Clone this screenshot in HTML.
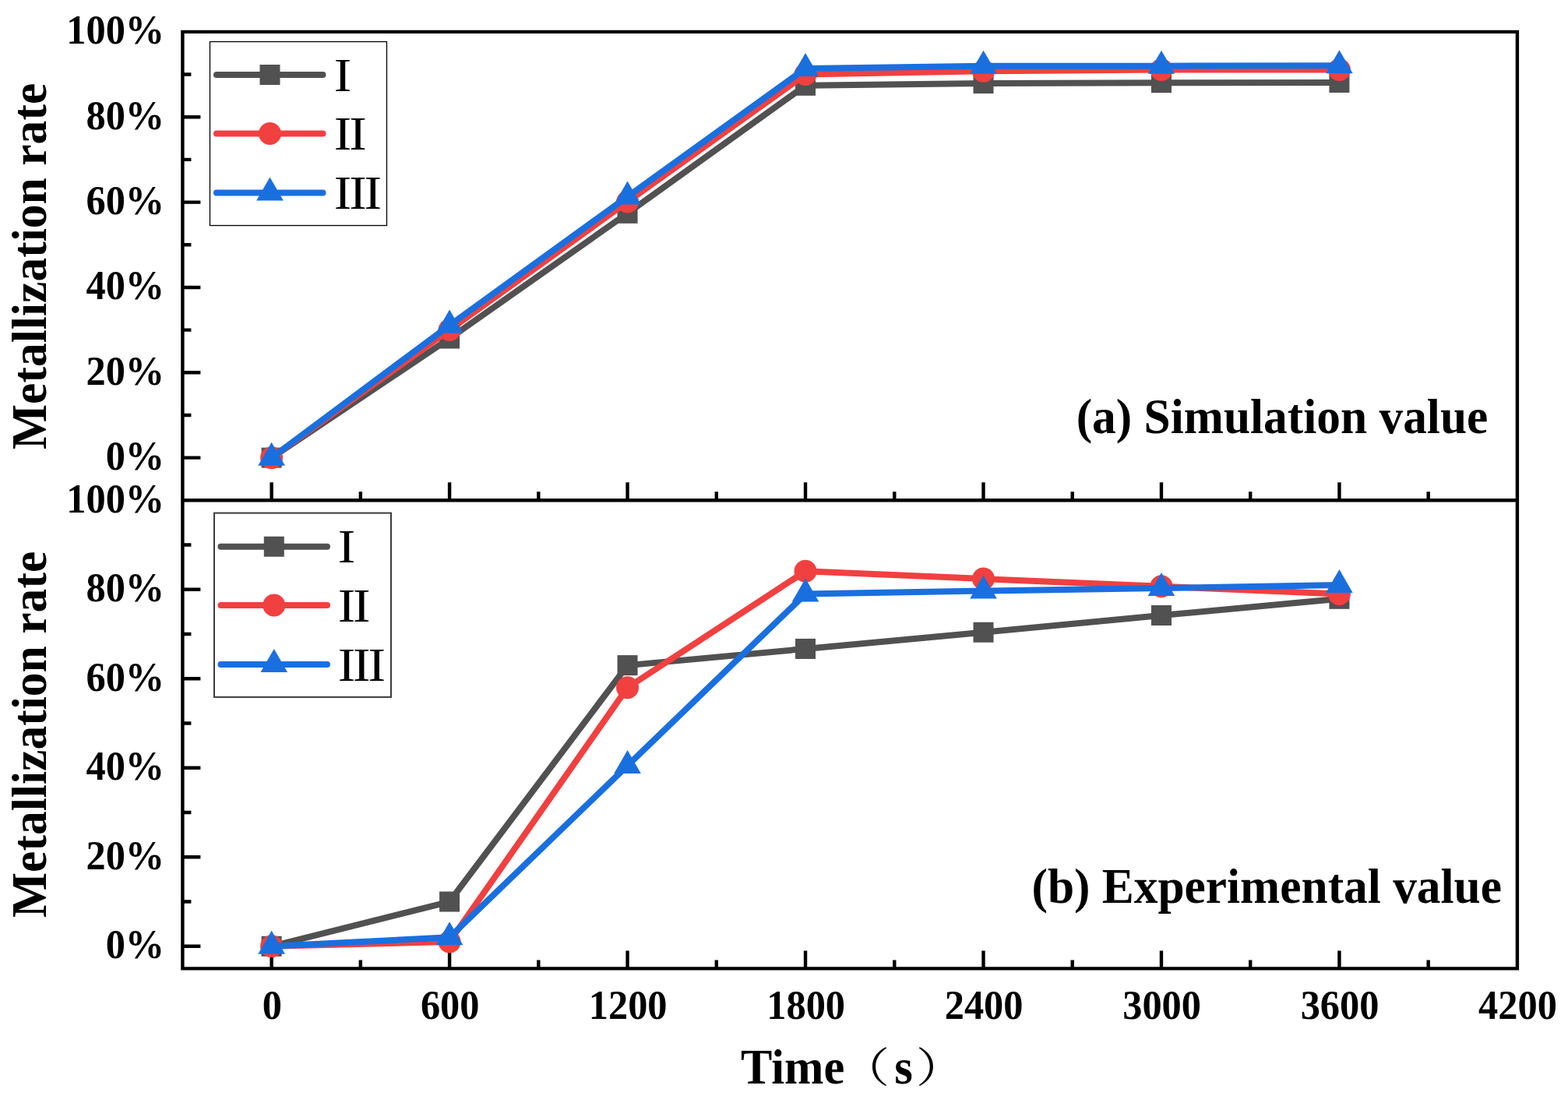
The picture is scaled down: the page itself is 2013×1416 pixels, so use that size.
<!DOCTYPE html><html><head><meta charset="utf-8"><title>Metallization rate</title><style>
html,body{margin:0;padding:0;background:#fff;overflow:hidden;width:2013px;height:1416px;}svg{display:block;}
.b{font-family:"Liberation Serif","Times New Roman",serif;font-weight:bold;fill:#000;}
.r{font-family:"Liberation Serif","Times New Roman",serif;font-weight:normal;fill:#000;}
.c{font-family:"Liberation Serif","Noto Serif CJK SC",serif;font-weight:normal;fill:#000;}
</style></head><body>
<svg width="2013" height="1416" viewBox="0 0 2013 1416">
<rect width="2013" height="1416" fill="#fff"/>
<path d="M234.4 587.63H257.4M234.4 532.95H245.4M234.4 478.28H257.4M234.4 423.61H245.4M234.4 368.94H257.4M234.4 314.26H245.4M234.4 259.59H257.4M234.4 204.92H245.4M234.4 150.25H257.4M234.4 95.57H245.4M234.4 1214.78H257.4M234.4 1157.53H245.4M234.4 1100.28H257.4M234.4 1043.03H245.4M234.4 985.79H257.4M234.4 928.54H245.4M234.4 871.29H257.4M234.4 814.04H245.4M234.4 756.8H257.4M234.4 699.55H245.4M348.63 642.3V619.3M462.87 642.3V631.3M577.1 642.3V619.3M691.33 642.3V631.3M805.57 642.3V619.3M919.8 642.3V631.3M1034.03 642.3V619.3M1148.27 642.3V631.3M1262.5 642.3V619.3M1376.73 642.3V631.3M1490.97 642.3V619.3M1605.2 642.3V631.3M1719.43 642.3V619.3M1833.67 642.3V631.3M348.63 1243.4V1220.4M462.87 1243.4V1232.4M577.1 1243.4V1220.4M691.33 1243.4V1232.4M805.57 1243.4V1220.4M919.8 1243.4V1232.4M1034.03 1243.4V1220.4M1148.27 1243.4V1232.4M1262.5 1243.4V1220.4M1376.73 1243.4V1232.4M1490.97 1243.4V1220.4M1605.2 1243.4V1232.4M1719.43 1243.4V1220.4M1833.67 1243.4V1232.4" stroke="#000" stroke-width="4.4" fill="none"/>
<polyline points="348.63,587.63 577.1,434.54 805.57,273.81 1034.03,109.79 1262.5,107.05 1490.97,106.18 1719.43,105.96" fill="none" stroke="#515151" stroke-width="8.0" stroke-linejoin="round" stroke-linecap="round"/>
<rect x="335.63" y="574.63" width="26" height="26" fill="#515151"/>
<rect x="564.1" y="421.54" width="26" height="26" fill="#515151"/>
<rect x="792.57" y="260.81" width="26" height="26" fill="#515151"/>
<rect x="1021.03" y="96.79" width="26" height="26" fill="#515151"/>
<rect x="1249.5" y="94.05" width="26" height="26" fill="#515151"/>
<rect x="1477.97" y="93.18" width="26" height="26" fill="#515151"/>
<rect x="1706.43" y="92.96" width="26" height="26" fill="#515151"/>
<polyline points="348.63,587.63 577.1,423.61 805.57,259.04 1034.03,95.57 1262.5,91.2 1490.97,89.56 1719.43,89.56" fill="none" stroke="#F14040" stroke-width="8.0" stroke-linejoin="round" stroke-linecap="round"/>
<circle cx="348.63" cy="587.63" r="14.5" fill="#F14040"/>
<circle cx="577.1" cy="423.61" r="14.5" fill="#F14040"/>
<circle cx="805.57" cy="259.04" r="14.5" fill="#F14040"/>
<circle cx="1034.03" cy="95.57" r="14.5" fill="#F14040"/>
<circle cx="1262.5" cy="91.2" r="14.5" fill="#F14040"/>
<circle cx="1490.97" cy="89.56" r="14.5" fill="#F14040"/>
<circle cx="1719.43" cy="89.56" r="14.5" fill="#F14040"/>
<polyline points="348.63,587.63 577.1,417.6 805.57,252.48 1034.03,87.92 1262.5,84.64 1490.97,84.64 1719.43,84.36" fill="none" stroke="#1A6FDF" stroke-width="8.0" stroke-linejoin="round" stroke-linecap="round"/>
<polygon points="348.63,567.63 331.33,597.63 365.93,597.63" fill="#1A6FDF"/>
<polygon points="577.1,397.6 559.8,427.6 594.4,427.6" fill="#1A6FDF"/>
<polygon points="805.57,232.48 788.27,262.48 822.87,262.48" fill="#1A6FDF"/>
<polygon points="1034.03,67.92 1016.73,97.92 1051.33,97.92" fill="#1A6FDF"/>
<polygon points="1262.5,64.64 1245.2,94.64 1279.8,94.64" fill="#1A6FDF"/>
<polygon points="1490.97,64.64 1473.67,94.64 1508.27,94.64" fill="#1A6FDF"/>
<polygon points="1719.43,64.36 1702.13,94.36 1736.73,94.36" fill="#1A6FDF"/>
<polyline points="348.63,1214.78 577.1,1157.53 805.57,854.12 1034.03,832.93 1262.5,811.75 1490.97,790 1719.43,768.82" fill="none" stroke="#515151" stroke-width="8.0" stroke-linejoin="round" stroke-linecap="round"/>
<rect x="335.63" y="1201.78" width="26" height="26" fill="#515151"/>
<rect x="564.1" y="1144.53" width="26" height="26" fill="#515151"/>
<rect x="792.57" y="841.12" width="26" height="26" fill="#515151"/>
<rect x="1021.03" y="819.93" width="26" height="26" fill="#515151"/>
<rect x="1249.5" y="798.75" width="26" height="26" fill="#515151"/>
<rect x="1477.97" y="777" width="26" height="26" fill="#515151"/>
<rect x="1706.43" y="755.82" width="26" height="26" fill="#515151"/>
<polyline points="348.63,1214.78 577.1,1209.05 805.57,882.74 1034.03,733.32 1262.5,743.06 1490.97,752.79 1719.43,762.52" fill="none" stroke="#F14040" stroke-width="8.0" stroke-linejoin="round" stroke-linecap="round"/>
<circle cx="348.63" cy="1214.78" r="14.5" fill="#F14040"/>
<circle cx="577.1" cy="1209.05" r="14.5" fill="#F14040"/>
<circle cx="805.57" cy="882.74" r="14.5" fill="#F14040"/>
<circle cx="1034.03" cy="733.32" r="14.5" fill="#F14040"/>
<circle cx="1262.5" cy="743.06" r="14.5" fill="#F14040"/>
<circle cx="1490.97" cy="752.79" r="14.5" fill="#F14040"/>
<circle cx="1719.43" cy="762.52" r="14.5" fill="#F14040"/>
<polyline points="348.63,1214.78 577.1,1203.33 805.57,982.92 1034.03,762.52 1262.5,758.51 1490.97,755.08 1719.43,751.07" fill="none" stroke="#1A6FDF" stroke-width="8.0" stroke-linejoin="round" stroke-linecap="round"/>
<polygon points="348.63,1194.78 331.33,1224.78 365.93,1224.78" fill="#1A6FDF"/>
<polygon points="577.1,1183.33 559.8,1213.33 594.4,1213.33" fill="#1A6FDF"/>
<polygon points="805.57,962.92 788.27,992.92 822.87,992.92" fill="#1A6FDF"/>
<polygon points="1034.03,742.52 1016.73,772.52 1051.33,772.52" fill="#1A6FDF"/>
<polygon points="1262.5,738.51 1245.2,768.51 1279.8,768.51" fill="#1A6FDF"/>
<polygon points="1490.97,735.08 1473.67,765.08 1508.27,765.08" fill="#1A6FDF"/>
<polygon points="1719.43,731.07 1702.13,761.07 1736.73,761.07" fill="#1A6FDF"/>
<path d="M234.4 40.9H1947.9V1243.4H234.4Z M234.4 642.3H1947.9" stroke="#000" stroke-width="4.4" fill="none" stroke-linejoin="miter" stroke-linecap="square"/>
<rect x="269.5" y="53.5" width="227" height="236" fill="#fff" stroke="#000" stroke-width="1.3"/>
<line x1="278" y1="96" x2="414.5" y2="96" stroke="#515151" stroke-width="8.0" stroke-linecap="round"/>
<rect x="333.5" y="83" width="26" height="26" fill="#515151"/>
<text class="r" font-size="58.3" letter-spacing="-2.7" transform="translate(428.8 117) scale(1.16 1.05)">I</text>
<line x1="278" y1="171.4" x2="414.5" y2="171.4" stroke="#F14040" stroke-width="8.0" stroke-linecap="round"/>
<circle cx="346.5" cy="171.4" r="14.5" fill="#F14040"/>
<text class="r" font-size="58.3" letter-spacing="-2.7" transform="translate(428.8 191.8) scale(1.16 1.05)">II</text>
<line x1="278" y1="247.4" x2="414.5" y2="247.4" stroke="#1A6FDF" stroke-width="8.0" stroke-linecap="round"/>
<polygon points="346.5,227.4 329.2,257.4 363.8,257.4" fill="#1A6FDF"/>
<text class="r" font-size="58.3" letter-spacing="-2.7" transform="translate(428.8 268) scale(1.16 1.05)">III</text>
<rect x="275" y="658.6" width="227" height="236.3" fill="#fff" stroke="#3c3c3c" stroke-width="2.0"/>
<line x1="283.5" y1="701.7" x2="420" y2="701.7" stroke="#515151" stroke-width="8.0" stroke-linecap="round"/>
<rect x="338.8" y="688.7" width="26" height="26" fill="#515151"/>
<text class="r" font-size="58.3" letter-spacing="-2.7" transform="translate(433.7 722.2) scale(1.16 1.05)">I</text>
<line x1="283.5" y1="777" x2="420" y2="777" stroke="#F14040" stroke-width="8.0" stroke-linecap="round"/>
<circle cx="351.8" cy="777" r="14.5" fill="#F14040"/>
<text class="r" font-size="58.3" letter-spacing="-2.7" transform="translate(433.7 797.8) scale(1.16 1.05)">II</text>
<line x1="283.5" y1="853" x2="420" y2="853" stroke="#1A6FDF" stroke-width="8.0" stroke-linecap="round"/>
<polygon points="351.8,833 334.5,863 369.1,863" fill="#1A6FDF"/>
<text class="r" font-size="58.3" letter-spacing="-2.7" transform="translate(433.7 874) scale(1.16 1.05)">III</text>
<text class="b" font-size="50.4" text-anchor="end" transform="translate(211.2 603.03) scale(1 1.033)">0%</text>
<text class="b" font-size="50.4" text-anchor="end" transform="translate(211.2 493.68) scale(1 1.033)">20%</text>
<text class="b" font-size="50.4" text-anchor="end" transform="translate(211.2 384.34) scale(1 1.033)">40%</text>
<text class="b" font-size="50.4" text-anchor="end" transform="translate(211.2 274.99) scale(1 1.033)">60%</text>
<text class="b" font-size="50.4" text-anchor="end" transform="translate(211.2 165.65) scale(1 1.033)">80%</text>
<text class="b" font-size="50.4" text-anchor="end" transform="translate(211.2 56.3) scale(1 1.033)">100%</text>
<text class="b" font-size="50.4" text-anchor="end" transform="translate(211.2 1230.18) scale(1 1.033)">0%</text>
<text class="b" font-size="50.4" text-anchor="end" transform="translate(211.2 1115.68) scale(1 1.033)">20%</text>
<text class="b" font-size="50.4" text-anchor="end" transform="translate(211.2 1001.19) scale(1 1.033)">40%</text>
<text class="b" font-size="50.4" text-anchor="end" transform="translate(211.2 886.69) scale(1 1.033)">60%</text>
<text class="b" font-size="50.4" text-anchor="end" transform="translate(211.2 772.2) scale(1 1.033)">80%</text>
<text class="b" font-size="50.4" text-anchor="end" transform="translate(211.2 657.7) scale(1 1.033)">100%</text>
<text class="b" font-size="50.4" text-anchor="middle" transform="translate(349.23 1308) scale(1 1.04)">0</text>
<text class="b" font-size="50.4" text-anchor="middle" transform="translate(577.7 1308) scale(1 1.04)">600</text>
<text class="b" font-size="50.4" text-anchor="middle" transform="translate(806.17 1308) scale(1 1.04)">1200</text>
<text class="b" font-size="50.4" text-anchor="middle" transform="translate(1034.63 1308) scale(1 1.04)">1800</text>
<text class="b" font-size="50.4" text-anchor="middle" transform="translate(1263.1 1308) scale(1 1.04)">2400</text>
<text class="b" font-size="50.4" text-anchor="middle" transform="translate(1491.57 1308) scale(1 1.04)">3000</text>
<text class="b" font-size="50.4" text-anchor="middle" transform="translate(1720.03 1308) scale(1 1.04)">3600</text>
<text class="b" font-size="50.4" text-anchor="middle" transform="translate(1948.5 1308) scale(1 1.04)">4200</text>
<text class="b" font-size="61.4" text-anchor="end" transform="translate(1910.3 555.7) scale(1 1.02)">(a) Simulation value</text>
<text class="b" font-size="61.4" text-anchor="end" transform="translate(1928 1159) scale(1 1.02)">(b) Experimental value</text>
<text class="b" font-size="61.6" text-anchor="middle" transform="translate(59 341.9) rotate(-90) scale(1 1.017)">Metallization rate</text>
<text class="b" font-size="61.6" text-anchor="middle" transform="translate(59 942.9) rotate(-90) scale(1 1.017)">Metallization rate</text>
<text class="b" font-size="60.5" transform="translate(951 1391) scale(1 1.035)">Time<tspan class="c" font-weight="600" font-size="51.3" x="127.5" dy="-0.68" textLength="63.61" lengthAdjust="spacingAndGlyphs">（</tspan><tspan x="197.2" dy="0.68">s</tspan><tspan class="c" font-weight="600" font-size="51.3" x="224.8" dy="-0.68" textLength="63.61" lengthAdjust="spacingAndGlyphs">）</tspan></text>
</svg></body></html>
